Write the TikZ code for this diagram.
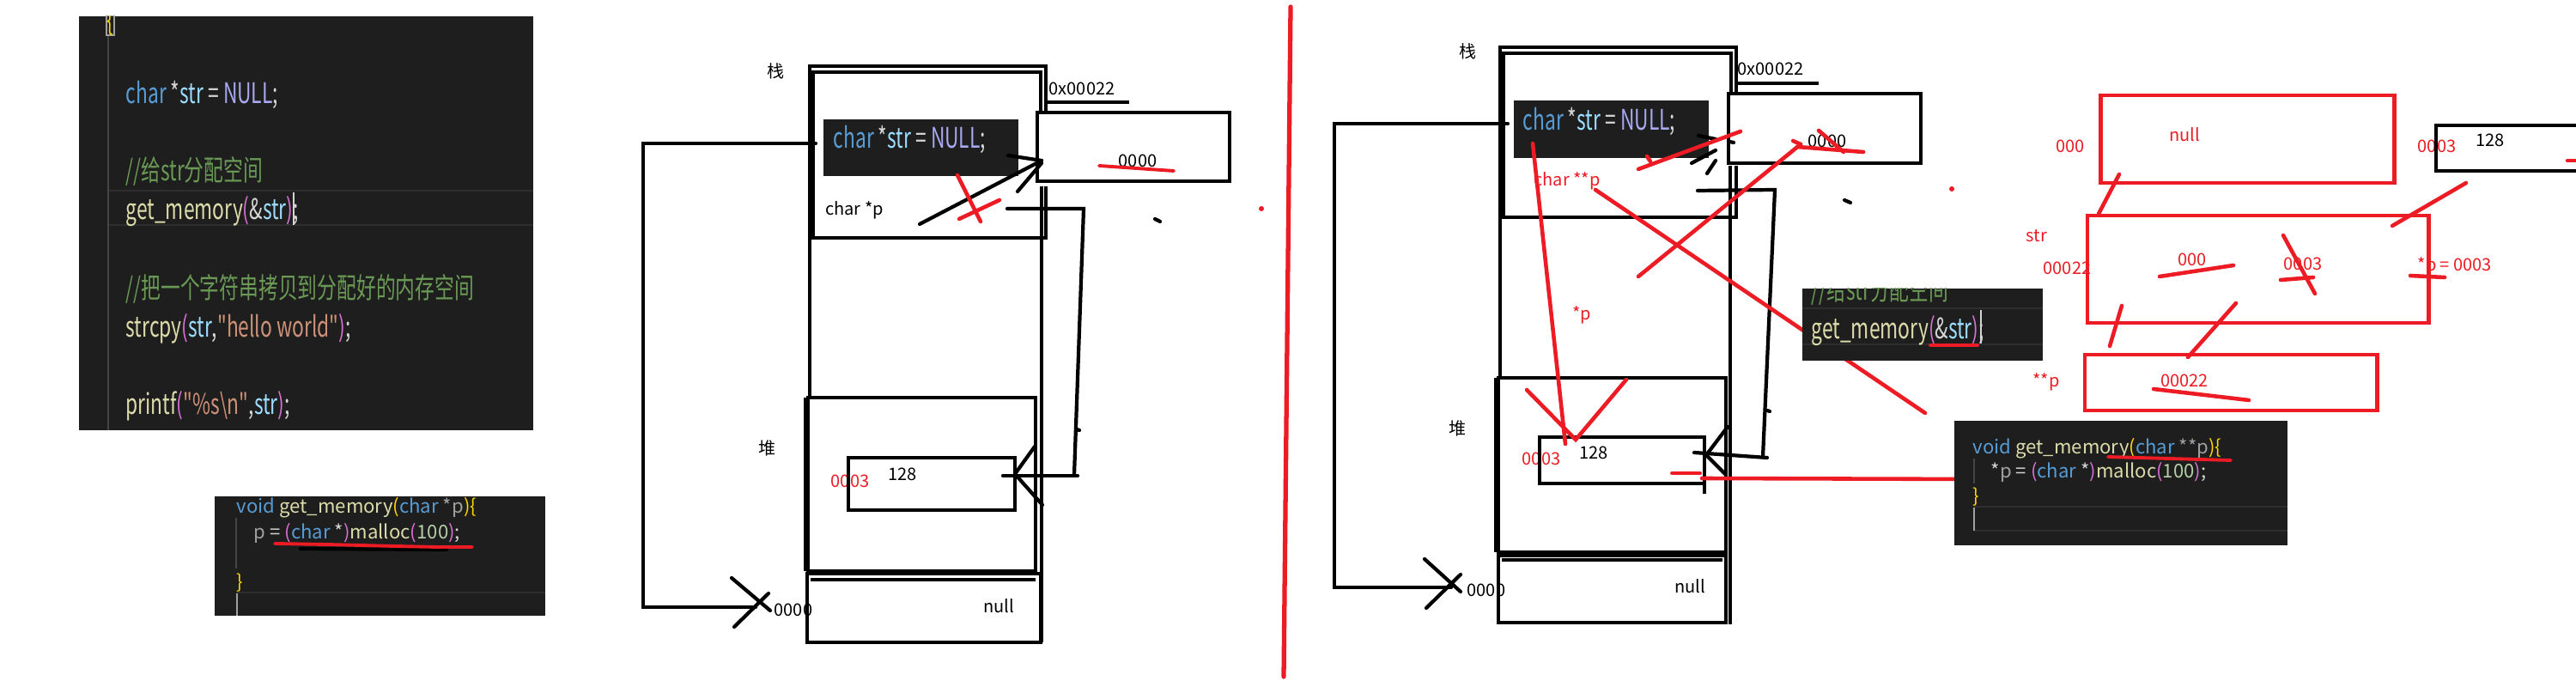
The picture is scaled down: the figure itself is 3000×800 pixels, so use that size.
\documentclass[tikz,border=0pt]{standalone}
\usepackage{fontspec}
\setmainfont{Noto Sans CJK SC}
\newfontfamily\codec[FakeStretch=0.69,Ligatures=TeXOff]{Noto Sans CJK SC}
\newfontfamily\coden[Ligatures=TeXOff]{Noto Sans CJK SC}
\definecolor{kw}{HTML}{569CD6}
\definecolor{vr}{HTML}{9CDCFE}
\definecolor{fn}{HTML}{DCDCAA}
\definecolor{sg}{HTML}{CE9178}
\definecolor{cm}{HTML}{6A9955}
\definecolor{nu}{HTML}{B5CEA8}
\definecolor{op}{HTML}{D4D4D4}
\definecolor{ba}{HTML}{FFD700}
\definecolor{bb}{HTML}{DA70D6}
\definecolor{nl}{HTML}{A9A9F2}
\definecolor{gp}{HTML}{A0A0A0}
\definecolor{codebg}{HTML}{1E1E1E}
\definecolor{bandc}{HTML}{2E2E2E}
\definecolor{guide}{HTML}{454545}
\definecolor{pred}{HTML}{ED1C24}
\newcommand\cKw[1]{\textcolor{kw}{#1}}
\newcommand\cVr[1]{\textcolor{vr}{#1}}
\newcommand\cFn[1]{\textcolor{fn}{#1}}
\newcommand\cSg[1]{\textcolor{sg}{#1}}
\newcommand\cCm[1]{\textcolor{cm}{#1}}
\newcommand\cNu[1]{\textcolor{nu}{#1}}
\newcommand\cOp[1]{\textcolor{op}{#1}}
\newcommand\cBa[1]{\textcolor{ba}{#1}}
\newcommand\cBb[1]{\textcolor{bb}{#1}}
\newcommand\cNl[1]{\textcolor{nl}{#1}}
\newcommand\cGp[1]{\textcolor{gp}{#1}}
\begin{document}
\begin{tikzpicture}[x=0.1mm,y=-0.1mm,
  pen/.style={line width=1.2pt,black},
  bpen/.style={line width=1.2pt,black,line cap=round},
  rpen/.style={line width=1.3pt,pred,line cap=round},
  rbox/.style={line width=1.4pt,pred},
  lbl/.style={inner sep=0pt,font=\fontsize{5.7pt}{6pt}\selectfont},
  rlbl/.style={lbl,text=pred},
  codeA/.style={inner sep=0pt,anchor=base west,font=\codec\fontsize{9.4pt}{11pt}\selectfont},
  codeB/.style={inner sep=0pt,anchor=base west,font=\coden\fontsize{6.3pt}{7pt}\selectfont},
]
\useasboundingbox (0,0) rectangle (3000,800);
\fill[white] (0,0) rectangle (3000,800);

%================ left code box 1 ================
\fill[codebg] (92,19) rectangle (621,501);
\begin{scope}
\clip (92,19) rectangle (621,501);
\draw[bandc,line width=0.6pt] (126,222) -- (621,222) (126,262) -- (621,262);
\draw[guide,line width=0.5pt] (126,42) -- (126,501);
\draw[gp,line width=0.4pt] (124,18) rectangle (133,41);
\node[codeA] (lbrace) at (124,36) {\cBa{\{}};
\node[codeA] (l1) at (146,121) {\cKw{char} \cOp{*}\cVr{str} \cOp{=} \cNl{NULL}\cOp{;}};
\node[codeA] (l2) at (146,211) {\cCm{//给str分配空间}};
\node[codeA] (l3) at (146,256) {\cFn{get\_memory}\cBb{(}\cOp{\&}\cVr{str}\cBb{)}\cOp{;}};
\draw[op,line width=0.6pt] (342,224) -- (342,262);
\node[codeA] (l4) at (146,348) {\cCm{//把一个字符串拷贝到分配好的内存空间}};
\node[codeA] (l5) at (146,393) {\cFn{strcpy}\cBb{(}\cVr{str}\cOp{,}\cSg{"hello world"}\cBb{)}\cOp{;}};
\node[codeA] (l6) at (146,483) {\cFn{printf}\cBb{(}\cSg{"\%s\textbackslash n"}\cOp{,}\cVr{str}\cBb{)}\cOp{;}};
\end{scope}

%================ left code box 2 ================
\fill[codebg] (250,578) rectangle (635,717);
\draw[guide,line width=0.5pt] (275,603) -- (275,662);
\draw[bandc,line width=0.6pt] (275,690) -- (635,690);
\draw[gp,line width=0.6pt] (276,691) -- (276,717);
\node[codeB] (m1) at (275,598) {\cKw{void} \cFn{get\_memory}\cBa{(}\cKw{char} \cGp{*p}\cBa{)}\cBa{\{}};
\node[codeB] (m2) at (295,628) {\cGp{p} \cOp{=} \cBb{(}\cKw{char} \cOp{*}\cBb{)}\cFn{malloc}\cBb{(}\cNu{100}\cBb{)}\cOp{;}};
\node[codeB] (m3) at (275,686) {\cBa{\}}};
\draw[line width=1.2pt,black,line cap=round] (350,639) -- (520,640);
\draw[line width=1.1pt,pred,line cap=round] (320,633) -- (380,634) -- (460,636) -- (510,637) -- (550,637);

%================ left memory diagram ================
\node[lbl] (zhanA) at (904,83) {栈};
\node[lbl] (duiA) at (894,522) {堆};
\node[lbl,anchor=west] (zeroA) at (901,710) {0000};
\node[lbl] (nullA) at (1163,706) {null};
\node[lbl] (addrA) at (1260,103) {0x00022};
\node[lbl] (cpA) at (995,245) {char *p};
\node[rlbl] (h3A) at (990,560) {0003};
\node[lbl] (v128A) at (1051,552) {128};
\node[lbl] (vzA) at (1325,187) {0000};
% stack frame
\draw[pen] (943,463) -- (943,77) -- (1218,77) -- (1218,133);
\draw[pen] (1218,217) -- (1218,277) -- (943,277);
\draw[pen] (947,277) -- (947,84) -- (1212,84) -- (1212,133);
\draw[pen] (1213,217) -- (1213,748);
% heap
\draw[pen] (941,463) rectangle (1206,665);
\draw[pen] (938,463) -- (938,665);
\draw[pen] (940,668) rectangle (1212,748);
\draw[pen] (944,675) -- (1206,675);
\draw[pen] (988,533) rectangle (1182,594);
% right box
\draw[pen] (1208,131) rectangle (1432,211);
\draw[pen] (1220,119) -- (1315,119);
\draw[rpen,line width=1.1pt] (1280,193) -- (1367,199);
% snippet
\fill[codebg] (959,139) rectangle (1186,205);
\node[codeA] (snA) at (970,173) {\cKw{char} \cOp{*}\cVr{str} \cOp{=} \cNl{NULL}\cOp{;}};
% arrow p -> str
\draw[bpen] (1071,261) -- (1213,187);
\draw[bpen] (1174,181) -- (1213,187);
\draw[bpen] (1185,223) -- (1213,190);
\draw[rpen] (1115,204) -- (1142,258);
\draw[rpen] (1117,255) -- (1164,233);
% pointer to heap
\draw[bpen] (1173,243) -- (1262,243) -- (1251,553);
\draw[bpen] (1255,554) -- (1168,554);
\draw[bpen] (1182,552) -- (1205,520);
\draw[bpen] (1182,552) -- (1214,588);
\draw[bpen] (1254,500) -- (1257,501);
% left bracket
\draw[bpen] (950,167) -- (749,167) -- (749,707) -- (880,707);
\draw[bpen] (852,673) -- (897,711);
\draw[bpen] (855,730) -- (895,691);
\draw[bpen] (1345,255) -- (1351,258);
\fill[pred] (1469,243) circle (3);

%================ divider ================
\draw[rpen,line width=1.5pt] (1503,8) -- (1495,788);

%================ right memory diagram ================
\node[lbl] (zhanB) at (1709,60) {栈};
\node[lbl] (duiB) at (1697,499) {堆};
\node[lbl,anchor=west] (zeroB) at (1708,687) {0000};
\node[lbl] (nullB) at (1968,683) {null};
\node[lbl] (addrB) at (2062,80) {0x00022};
\node[rlbl] (cppB) at (1825,211) {char **p};
\node[rlbl] (spB) at (1842,367) {*p};
\node[rlbl] (h3B) at (1795,534) {0003};
\node[lbl] (v128B) at (1856,527) {128};
\node[lbl] (vzB) at (2128,164) {0000};
% stack frame
\draw[pen] (1747,440) -- (1747,55) -- (2022,55) -- (2022,110);
\draw[pen] (2022,193) -- (2022,253) -- (1747,253);
\draw[pen] (1751,253) -- (1751,62) -- (2016,62) -- (2016,110);
\draw[pen] (2015,193) -- (2015,727);
% heap
\draw[pen] (1745,440) rectangle (2010,643);
\draw[pen] (1742,440) -- (1742,643);
\draw[pen] (1745,647) rectangle (2010,725);
\draw[pen] (1749,652) -- (2006,652);
\draw[pen] (1793,509) rectangle (1985,563);
\draw[pen] (1985,507) -- (1985,575);
% right box
\draw[pen] (2013,109) rectangle (2237,190);
\draw[pen] (2020,97) -- (2118,97);
% snippet
\fill[codebg] (1763,117) rectangle (1990,184);
\node[codeA] (snB) at (1773,152) {\cKw{char} \cOp{*}\cVr{str} \cOp{=} \cNl{NULL}\cOp{;}};
% black arrow remains
\draw[bpen] (1978,158) -- (1998,162);
\draw[bpen] (1970,190) -- (1998,175);
\draw[bpen] (1988,202) -- (1998,187);
\draw[bpen] (2014,165) -- (2019,166);
% pointer to heap
\draw[bpen] (1977,222) -- (2067,221) -- (2053,532);
\draw[bpen] (2058,533) -- (1973,527);
\draw[bpen] (1987,530) -- (2012,497);
\draw[bpen] (1987,530) -- (2010,553);
\draw[bpen] (2058,478) -- (2061,479);
\draw[bpen] (2148,233) -- (2155,236);
% left bracket
\draw[bpen] (1756,144) -- (1554,144) -- (1554,684) -- (1690,684);
\draw[bpen] (1659,651) -- (1701,689);
\draw[bpen] (1661,708) -- (1701,669);
% red strokes
\draw[rpen] (1908,197) -- (2027,153);
\draw[rpen] (1918,182) -- (1922,188);
\draw[rpen] (1908,322) -- (2097,168);
\draw[rpen] (2088,164) -- (2097,168);
\draw[rpen] (2093,171) -- (2170,177);
\draw[rpen] (2118,152) -- (2147,177);
\draw[rpen] (1785,167) -- (1823,517);
\draw[rpen] (1778,454) -- (1835,512) -- (1894,442);
\draw[rpen] (1858,221) -- (2242,481);
\draw[rpen,line width=1.1pt] (1947,551) -- (1980,551);
\draw[rpen] (1982,557) -- (2305,558);

% get_memory(&str) crop
\fill[codebg] (2099,336) rectangle (2379,420);
\begin{scope}
\clip (2099,336) rectangle (2379,420);
\draw[bandc,line width=0.6pt] (2099,359) -- (2379,359) (2099,401) -- (2379,401);
\node[codeA] (gcm) at (2109,350) {\cCm{//给str分配空间}};
\node[codeA] (gms) at (2109,395) {\cFn{get\_memory}\cBb{(}\cOp{\&}\cVr{str}\cBb{)}\cOp{;}};
\draw[op,line width=0.6pt] (2307,361) -- (2307,400);
\end{scope}
\draw[rpen,line width=1.1pt] (2248,402) -- (2303,402);

% void get_memory(char **p)
\fill[codebg] (2276,490) rectangle (2664,635);
\draw[guide,line width=0.5pt] (2299,534) -- (2299,563);
\draw[bandc,line width=0.6pt] (2299,590) -- (2664,590) (2299,618) -- (2664,618);
\draw[gp,line width=0.6pt] (2299,591) -- (2299,618);
\node[codeB] (v1) at (2297,529) {\cKw{void} \cFn{get\_memory}\cBa{(}\cKw{char} \cGp{**p}\cBa{)}\cBa{\{}};
\node[codeB] (v2) at (2318,557) {\cOp{*}\cGp{p} \cOp{=} \cBb{(}\cKw{char} \cOp{*}\cBb{)}\cFn{malloc}\cBb{(}\cNu{100}\cBb{)}\cOp{;}};
\node[codeB] (v3) at (2297,586) {\cBa{\}}};
\draw[rpen,line width=1.1pt] (2455,532) -- (2598,536);

%================ red boxes ================
\fill[pred] (2273,220) circle (3);
\node[rlbl] (r000) at (2411,170) {000};
\node[rlbl] (rnull) at (2544,157) {null};
\node[rlbl] (r0003) at (2838,170) {0003};
\node[lbl] (r128) at (2900,163) {128};
\node[rlbl] (rstr) at (2372,275) {str};
\node[rlbl,anchor=west] (r22) at (2379,312) {00022};
\node[rlbl] (r000b) at (2553,302) {000};
\node[rlbl] (r0003b) at (2682,307) {0003};
\node[rlbl,anchor=west] (rp) at (2815,310) {*p = 0003};
\node[rlbl] (rpp) at (2383,445) {**p};
\node[rlbl] (r22b) at (2544,443) {00022};
\draw[rbox] (2446,111) rectangle (2788,213);
\draw[pen] (3005,146) -- (2837,146) -- (2837,199) -- (3005,199);
\draw[rpen] (2990,187) -- (3002,187);
\draw[rbox] (2431,251) rectangle (2828,376);
\draw[rbox] (2428,413) rectangle (2768,478);
\draw[rpen] (2468,203) -- (2444,249);
\draw[rpen] (2872,213) -- (2786,263);
\draw[rpen] (2471,356) -- (2457,403);
\draw[rpen] (2604,353) -- (2548,416);
\draw[rpen] (2515,322) -- (2601,309);
\draw[rpen] (2656,326) -- (2694,323);
\draw[rpen] (2659,274) -- (2696,342);
\draw[rpen] (2807,321) -- (2847,323);
\draw[rpen] (2508,453) -- (2619,466);
\end{tikzpicture}
\end{document}
